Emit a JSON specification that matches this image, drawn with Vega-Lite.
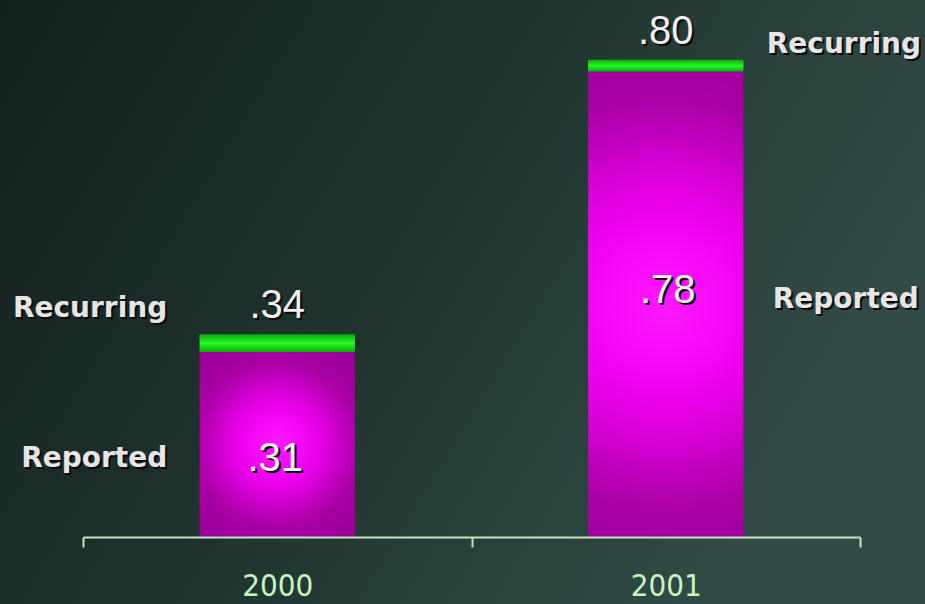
{
  "$schema": "https://vega.github.io/schema/vega-lite/v6.json",
  "width": 925,
  "height": 604,
  "autosize": {"type": "none"},
  "padding": 0,
  "background": "#1d2d29",
  "config": {"view": {"stroke": null}},
  "data": {"values": [
    {"year": "2000", "reported": 0.31, "recurring": 0.34, "repText": ".31", "recText": ".34"},
    {"year": "2001", "reported": 0.78, "recurring": 0.80, "repText": ".78", "recText": ".80"}
  ]},
  "layer": [
    {
      "data": {"values": [{"bg": 1}]},
      "mark": {"type": "rect", "color": {"gradient": "linear", "x1": 0, "y1": 0, "x2": 1, "y2": 0.4, "stops": [
        {"offset": 0, "color": "#141f1c"},
        {"offset": 0.5, "color": "#1f332e"},
        {"offset": 1, "color": "#324b46"}
      ]}},
      "encoding": {"x": {"value": 0}, "x2": {"value": "width"}, "y": {"value": 0}, "y2": {"value": "height"}}
    },
    {
      "mark": {"type": "bar", "width": {"band": 0.4}, "color": {"gradient": "radial", "x1": 0.5, "y1": 0.5, "r1": 0, "x2": 0.5, "y2": 0.5, "r2": 0.72, "stops": [
        {"offset": 0, "color": "#ff18ff"},
        {"offset": 0.3, "color": "#ec00ec"},
        {"offset": 0.62, "color": "#a800a4"},
        {"offset": 1, "color": "#920090"}
      ]}},
      "encoding": {
        "x": {"field": "year", "type": "nominal",
          "scale": {"range": [83, 860], "paddingInner": 0, "paddingOuter": 0},
          "axis": {"title": null, "orient": "bottom", "offset": -67, "zindex": 1, "labelAngle": 0,
            "domainColor": "#c6e4bf", "domainWidth": 2, "tickColor": "#c6e4bf", "tickWidth": 2, "tickSize": 10,
            "tickBand": "extent", "labelColor": "#c8f5c0", "labelFont": "DejaVu Sans Condensed, Liberation Sans", "labelFontSize": 31,
            "labelPadding": 24}},
        "y": {"field": "reported", "type": "quantitative", "scale": {"domain": [0, 0.895], "range": [537, 0]}, "axis": null}
      }
    },
    {
      "mark": {"type": "bar", "width": {"band": 0.4}, "color": {"gradient": "linear", "x1": 0, "y1": 0, "x2": 0, "y2": 1, "stops": [
        {"offset": 0, "color": "#08a808"},
        {"offset": 0.5, "color": "#28f828"},
        {"offset": 1, "color": "#0aae0a"}
      ]}},
      "encoding": {
        "x": {"field": "year", "type": "nominal"},
        "y": {"field": "recurring", "type": "quantitative"},
        "y2": {"field": "reported"}
      }
    },
    {
      "mark": {"type": "text", "font": "Liberation Sans", "fontSize": 40, "color": "#0a0a0a", "baseline": "alphabetic", "dx": 2, "dy": -14},
      "encoding": {"x": {"field": "year", "type": "nominal"}, "y": {"field": "recurring", "type": "quantitative"}, "text": {"field": "recText"}}
    },
    {
      "mark": {"type": "text", "font": "Liberation Sans", "fontSize": 40, "color": "#f0f0f0", "baseline": "alphabetic", "dy": -16},
      "encoding": {"x": {"field": "year", "type": "nominal"}, "y": {"field": "recurring", "type": "quantitative"}, "text": {"field": "recText"}}
    },
    {
      "transform": [{"filter": "datum.year == '2000'"}],
      "mark": {"type": "text", "font": "Liberation Sans", "fontSize": 40, "color": "#0a0a0a", "baseline": "alphabetic", "dx": 0, "dy": 121},
      "encoding": {"x": {"field": "year", "type": "nominal"}, "y": {"field": "reported", "type": "quantitative"}, "text": {"field": "repText"}}
    },
    {
      "transform": [{"filter": "datum.year == '2000'"}],
      "mark": {"type": "text", "font": "Liberation Sans", "fontSize": 40, "color": "#f0f0f0", "baseline": "alphabetic", "dx": -2, "dy": 119},
      "encoding": {"x": {"field": "year", "type": "nominal"}, "y": {"field": "reported", "type": "quantitative"}, "text": {"field": "repText"}}
    },
    {
      "transform": [{"filter": "datum.year == '2001'"}],
      "mark": {"type": "text", "font": "Liberation Sans", "fontSize": 40, "color": "#0a0a0a", "baseline": "alphabetic", "dx": 4, "dy": 233},
      "encoding": {"x": {"field": "year", "type": "nominal"}, "y": {"field": "reported", "type": "quantitative"}, "text": {"field": "repText"}}
    },
    {
      "transform": [{"filter": "datum.year == '2001'"}],
      "mark": {"type": "text", "font": "Liberation Sans", "fontSize": 40, "color": "#f0f0f0", "baseline": "alphabetic", "dx": 2, "dy": 231},
      "encoding": {"x": {"field": "year", "type": "nominal"}, "y": {"field": "reported", "type": "quantitative"}, "text": {"field": "repText"}}
    },
    {
      "transform": [{"filter": "datum.year == '2000'"}],
      "mark": {"type": "text", "font": "DejaVu Sans", "fontWeight": "bold", "fontSize": 28, "color": "#0a0a0a", "align": "right", "baseline": "alphabetic", "dx": -108, "dy": -15},
      "encoding": {"x": {"field": "year", "type": "nominal"}, "y": {"field": "recurring", "type": "quantitative"}, "text": {"value": "Recurring"}}
    },
    {
      "transform": [{"filter": "datum.year == '2000'"}],
      "mark": {"type": "text", "font": "DejaVu Sans", "fontWeight": "bold", "fontSize": 28, "color": "#e6e6e6", "align": "right", "baseline": "alphabetic", "dx": -110, "dy": -17},
      "encoding": {"x": {"field": "year", "type": "nominal"}, "y": {"field": "recurring", "type": "quantitative"}, "text": {"value": "Recurring"}}
    },
    {
      "transform": [{"filter": "datum.year == '2000'"}],
      "mark": {"type": "text", "font": "DejaVu Sans", "fontWeight": "bold", "fontSize": 28, "color": "#0a0a0a", "align": "right", "baseline": "alphabetic", "dx": -108, "dy": 117},
      "encoding": {"x": {"field": "year", "type": "nominal"}, "y": {"field": "reported", "type": "quantitative"}, "text": {"value": "Reported"}}
    },
    {
      "transform": [{"filter": "datum.year == '2000'"}],
      "mark": {"type": "text", "font": "DejaVu Sans", "fontWeight": "bold", "fontSize": 28, "color": "#e6e6e6", "align": "right", "baseline": "alphabetic", "dx": -110, "dy": 115},
      "encoding": {"x": {"field": "year", "type": "nominal"}, "y": {"field": "reported", "type": "quantitative"}, "text": {"value": "Reported"}}
    },
    {
      "transform": [{"filter": "datum.year == '2001'"}],
      "mark": {"type": "text", "font": "DejaVu Sans", "fontWeight": "bold", "fontSize": 28, "color": "#0a0a0a", "align": "left", "baseline": "alphabetic", "dx": 103, "dy": -5},
      "encoding": {"x": {"field": "year", "type": "nominal"}, "y": {"field": "recurring", "type": "quantitative"}, "text": {"value": "Recurring"}}
    },
    {
      "transform": [{"filter": "datum.year == '2001'"}],
      "mark": {"type": "text", "font": "DejaVu Sans", "fontWeight": "bold", "fontSize": 28, "color": "#e6e6e6", "align": "left", "baseline": "alphabetic", "dx": 101, "dy": -7},
      "encoding": {"x": {"field": "year", "type": "nominal"}, "y": {"field": "recurring", "type": "quantitative"}, "text": {"value": "Recurring"}}
    },
    {
      "transform": [{"filter": "datum.year == '2001'"}],
      "mark": {"type": "text", "font": "DejaVu Sans", "fontWeight": "bold", "fontSize": 28, "color": "#0a0a0a", "align": "left", "baseline": "alphabetic", "dx": 109, "dy": 238},
      "encoding": {"x": {"field": "year", "type": "nominal"}, "y": {"field": "reported", "type": "quantitative"}, "text": {"value": "Reported"}}
    },
    {
      "transform": [{"filter": "datum.year == '2001'"}],
      "mark": {"type": "text", "font": "DejaVu Sans", "fontWeight": "bold", "fontSize": 28, "color": "#e6e6e6", "align": "left", "baseline": "alphabetic", "dx": 107, "dy": 236},
      "encoding": {"x": {"field": "year", "type": "nominal"}, "y": {"field": "reported", "type": "quantitative"}, "text": {"value": "Reported"}}
    }
  ]
}
